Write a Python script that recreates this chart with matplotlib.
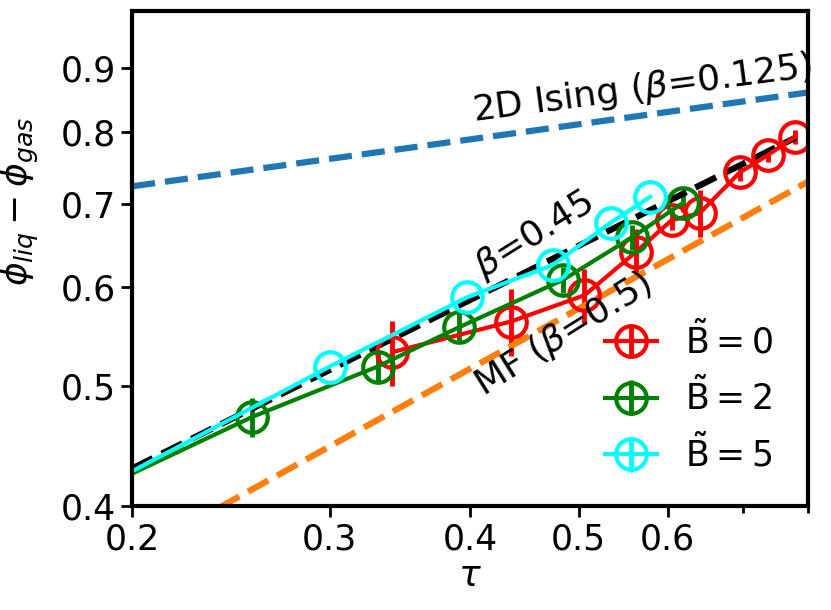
import matplotlib
matplotlib.use('Agg')
import matplotlib.pyplot as plt
from matplotlib.ticker import NullFormatter

plt.rcParams['mathtext.fontset'] = 'dejavusans'

# B~ = 0
tau_b0 = [0.341, 0.435, 0.506, 0.562, 0.605, 0.641, 0.696, 0.737, 0.779]
phi_b0 = [0.532, 0.563, 0.591, 0.640, 0.679, 0.688, 0.742, 0.766, 0.792]
err_b0 = [0.032, 0.035, 0.030, 0.028, 0.012, 0.030, 0.012, 0.010, 0.010]

# B~ = 2
tau_b2 = [0.15, 0.256, 0.331, 0.391, 0.484, 0.558, 0.619]
phi_b2 = [0.376, 0.472, 0.518, 0.557, 0.608, 0.658, 0.701]
err_b2 = [0.017, 0.017, 0.015, 0.015, 0.015, 0.015, 0.012]

# B~ = 5
tau_b5 = [0.15, 0.300, 0.398, 0.474, 0.534, 0.579]
phi_b5 = [0.372, 0.518, 0.589, 0.625, 0.676, 0.709]
err_b5 = [0.0, 0.0, 0.0, 0.0, 0.0, 0.0]

# reference power laws (end points)
ising_x = [0.2, 0.8]
ising_y = [0.723, 0.860]
fit_x = [0.2, 0.78]
fit_y = [0.429, 0.791]
mf_x = [0.2, 0.8]
mf_y = [0.365, 0.729]

xticks = [0.2, 0.3, 0.4, 0.5, 0.6]
yticks = [0.4, 0.5, 0.6, 0.7, 0.8, 0.9]

fig, ax = plt.subplots(figsize=(8.31, 6.1), dpi=100)
fig.subplots_adjust(left=0.159, right=0.972, bottom=0.17, top=0.982)

kw = dict(marker='o', ms=22, mfc='none', mew=3, lw=3, elinewidth=3.5)
ax.errorbar(tau_b0, phi_b0, yerr=err_b0, color='red', label=r'$\tilde{\mathrm{B}} = 0$', **kw)
ax.errorbar(tau_b2, phi_b2, yerr=err_b2, color='green', label=r'$\tilde{\mathrm{B}} = 2$', **kw)
ax.errorbar(tau_b5, phi_b5, yerr=err_b5, color='cyan', label=r'$\tilde{\mathrm{B}} = 5$', **kw)

ax.plot(ising_x, ising_y, '--', color='C0', lw=4.5)
ax.plot(fit_x, fit_y, '--', color='black', lw=4.5)
ax.plot(mf_x, mf_y, '--', color='C1', lw=4.5)

ax.text(0.403, 0.815, r'2D Ising ($\beta$=0.125)', rotation=7.5, rotation_mode='anchor', fontsize=26)
ax.text(0.411, 0.610, r'$\beta$=0.45', rotation=32, rotation_mode='anchor', fontsize=26)
ax.text(0.411, 0.490, r'MF ($\beta$=0.5)', rotation=32, rotation_mode='anchor', fontsize=26)

ax.set_xscale('log')
ax.set_yscale('log')
ax.set_xlim(0.2, 0.8)
ax.set_ylim(0.4, 1.0)
ax.set_xticks(xticks)
ax.set_xticklabels([str(t) for t in xticks])
ax.set_yticks(yticks)
ax.set_yticklabels([str(t) for t in yticks])
ax.xaxis.set_minor_formatter(NullFormatter())
ax.yaxis.set_minor_formatter(NullFormatter())
ax.tick_params(axis='both', which='major', labelsize=25, length=8, width=2)
ax.tick_params(axis='both', which='minor', length=5, width=2)

for s in ax.spines.values():
    s.set_linewidth(3)

ax.set_xlabel(r'$\tau$', fontsize=26, labelpad=2)
ax.set_ylabel(r'$\phi_{liq} - \phi_{gas}$', fontsize=26)
ax.yaxis.set_label_coords(-0.135, 0.616)

ax.legend(loc='lower right', bbox_to_anchor=(0.969, 0.038), borderaxespad=0,
          fontsize=25, frameon=False, handlelength=1.5)

plt.savefig('out.png', dpi=100)
